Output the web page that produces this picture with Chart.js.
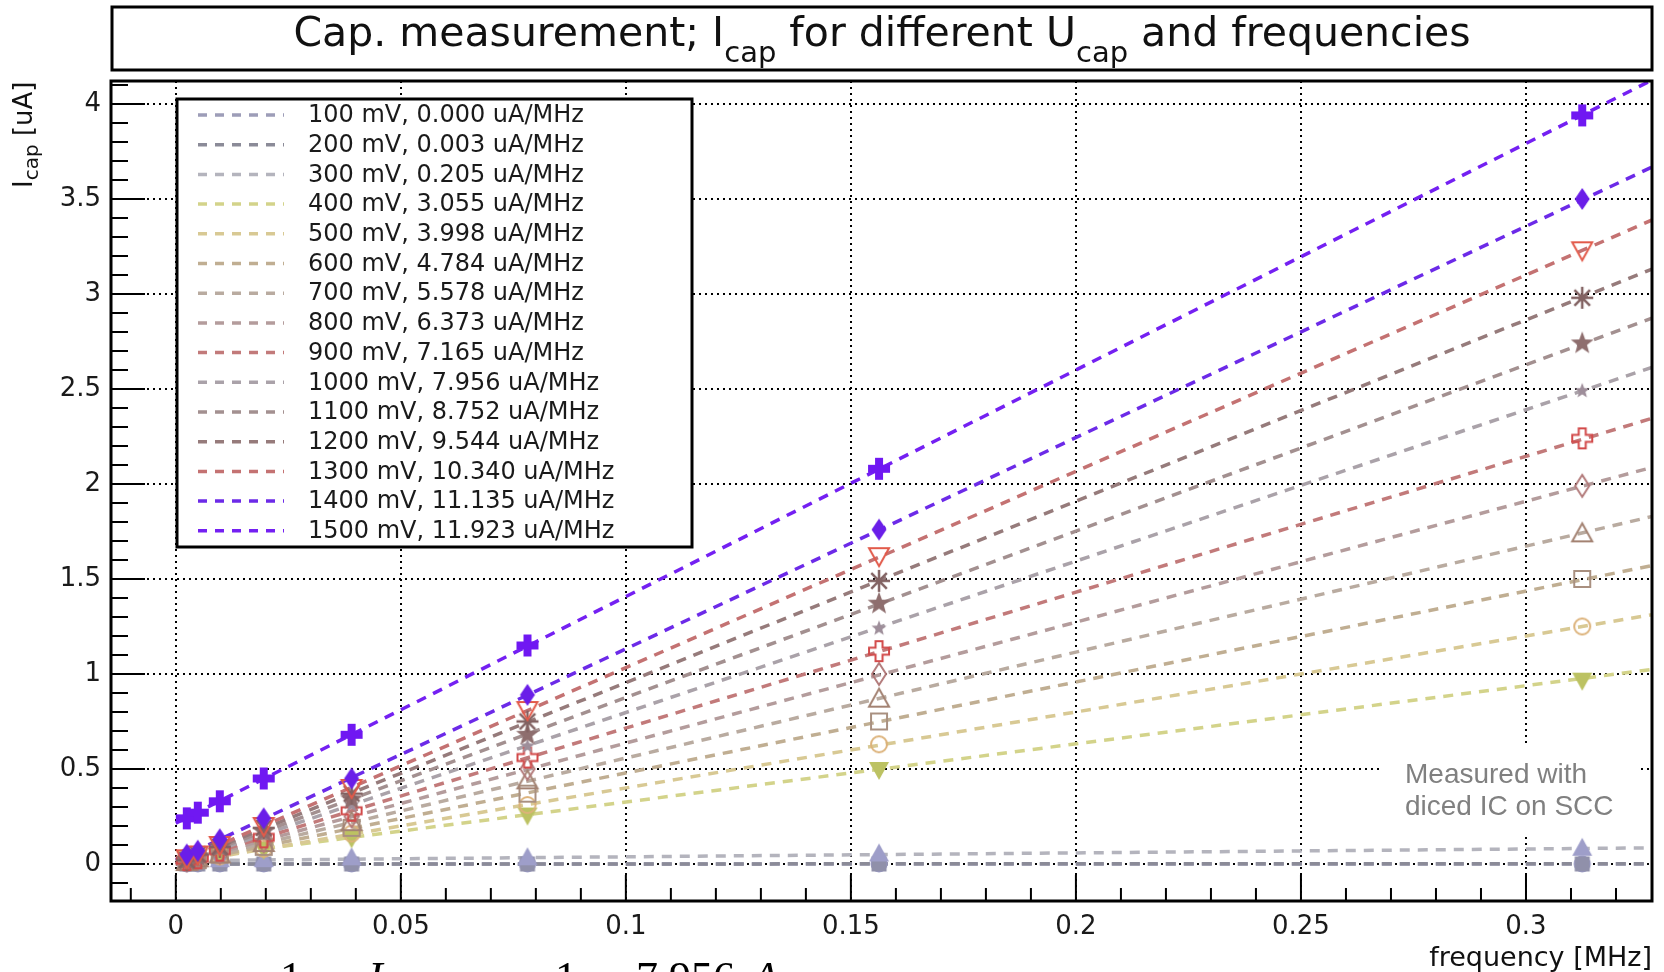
<!DOCTYPE html>
<html>
<head>
    <title>Cap. measurement</title>
    <meta charset="utf-8">
    <style>
        body {
            margin: 0;
            background: #ffffff;
        }

        #wrap {
            position: relative;
            width: 1664px;
            height: 972px;
        }
    </style>
</head>

<body>
    <div id="wrap"><canvas id="capChart"></canvas></div>

    <script src="https://cdn.jsdelivr.net/npm/chart.js@4.4.1/dist/chart.umd.min.js"></script>
    <script>
        // measurement frequencies [MHz]
        const freqs = [0.00244, 0.00488, 0.00977, 0.01953, 0.03906, 0.07813, 0.15625, 0.3125];

        // U_cap [mV] and fitted slope [uA/MHz] shown in the legend
        const voltages = [100, 200, 300, 400, 500, 600, 700, 800, 900, 1000, 1100, 1200, 1300, 1400, 1500];
        const slopeLabels = ['0.000', '0.003', '0.205', '3.055', '3.998', '4.784', '5.578', '6.373',
            '7.165', '7.956', '8.752', '9.544', '10.340', '11.135', '11.923'];

        // measured I_cap [uA] for each U_cap
        const cur100 = [0.00, 0.00, 0.00, 0.00, 0.00, 0.00, 0.00, 0.00];
        const cur200 = [0.00, 0.00, 0.00, 0.00, 0.00, 0.00, 0.00, 0.00];
        const cur300 = [0.02, 0.02, 0.02, 0.02, 0.03, 0.03, 0.05, 0.08];
        const cur400 = [0.03, 0.04, 0.05, 0.08, 0.14, 0.26, 0.50, 0.97];
        const cur500 = [0.01, 0.02, 0.04, 0.08, 0.16, 0.31, 0.63, 1.25];
        const cur600 = [0.01, 0.02, 0.05, 0.09, 0.19, 0.37, 0.75, 1.50];
        const cur700 = [0.01, 0.03, 0.05, 0.11, 0.22, 0.44, 0.87, 1.74];
        const cur800 = [0.02, 0.03, 0.06, 0.12, 0.25, 0.50, 1.00, 1.99];
        const cur900 = [0.02, 0.03, 0.07, 0.14, 0.28, 0.56, 1.12, 2.24];
        const cur1000 = [0.02, 0.04, 0.08, 0.16, 0.31, 0.62, 1.24, 2.49];
        const cur1100 = [0.02, 0.04, 0.09, 0.17, 0.34, 0.68, 1.37, 2.74];
        const cur1200 = [0.02, 0.05, 0.09, 0.19, 0.37, 0.75, 1.49, 2.98];
        const cur1300 = [0.03, 0.05, 0.10, 0.20, 0.40, 0.81, 1.62, 3.23];
        const cur1400 = [0.05, 0.07, 0.13, 0.24, 0.45, 0.89, 1.76, 3.50];
        const cur1500 = [0.24, 0.27, 0.33, 0.45, 0.68, 1.15, 2.08, 3.94];

        // fit lines: value at x = fitX[0] and at x = fitX[1]
        const fitX = [0, 0.33];
        const fitAtZero = [0.00, 0.00, 0.017, 0.02, 0.00, 0.00, 0.00, 0.00, 0.00, 0.00, 0.00, 0.00, 0.00, 0.02, 0.215];
        const fitAtEnd = [0.00, 0.001, 0.085, 1.03, 1.32, 1.58, 1.84, 2.10, 2.36, 2.63, 2.89, 3.15, 3.41, 3.69, 4.15];

        // axis ticks
        const xTicks = [0, 0.05, 0.1, 0.15, 0.2, 0.25, 0.3];
        const yTicks = [0, 0.5, 1, 1.5, 2, 2.5, 3, 3.5, 4];

        const allCurrents = [cur100, cur200, cur300, cur400, cur500, cur600, cur700, cur800,
            cur900, cur1000, cur1100, cur1200, cur1300, cur1400, cur1500];

        const lineColors = ['#9d9db8', '#8b8b98', '#b4b4bd', '#d3d38a', '#d8c994', '#c0ae92', '#b9aba0',
            '#b49c9c', '#c27a7a', '#aaa2a9', '#a39090', '#967b7b', '#c47272', '#6c2ae8', '#7420f2'];
        const markerColors = ['#9898c6', '#9090aa', '#9e9ec9', '#bcc262', '#dcb27a', '#a99080', '#a38272',
            '#b27a7a', '#d24a4a', '#9e8e9a', '#8e6e6e', '#826262', '#e25a4a', '#6a1ee8', '#7018f2'];
        const markerKinds = ['circleF', 'squareF', 'triUpF', 'triDownF', 'circleO', 'squareO', 'triUpO',
            'diamondO', 'crossO', 'starS', 'starB', 'asterisk', 'triDownO', 'diamondF', 'crossF'];

        // small canvases used as ROOT like marker shapes
        function markerCanvas(kind, color) {
            const c = document.createElement('canvas');
            c.width = 28;
            c.height = 28;
            const g = c.getContext('2d');
            g.translate(14, 14);
            g.fillStyle = color;
            g.strokeStyle = color;
            g.lineWidth = 2;
            const poly = pts => {
                g.beginPath();
                pts.forEach(([px, py], k) => k ? g.lineTo(px, py) : g.moveTo(px, py));
                g.closePath();
            };
            const star = (ro, ri) => {
                const pts = [];
                for (let k = 0; k < 10; k++) {
                    const r = k % 2 ? ri : ro;
                    const a = -Math.PI / 2 + k * Math.PI / 5;
                    pts.push([r * Math.cos(a), r * Math.sin(a)]);
                }
                poly(pts);
            };
            const plus = (L, w) => poly([[-w, -L], [w, -L], [w, -w], [L, -w], [L, w], [w, w], [w, L],
                [-w, L], [-w, w], [-L, w], [-L, -w], [-w, -w]]);
            switch (kind) {
                case 'circleF': g.beginPath(); g.arc(0, 0, 8.5, 0, 2 * Math.PI); g.fill(); break;
                case 'squareF': g.fillRect(-7.5, -7.5, 15, 15); break;
                case 'triUpF': poly([[0, -11], [10, 7], [-10, 7]]); g.fill(); break;
                case 'triDownF': poly([[0, 11], [10, -7], [-10, -7]]); g.fill(); break;
                case 'circleO': g.beginPath(); g.arc(0, 0, 8, 0, 2 * Math.PI); g.stroke(); break;
                case 'squareO': g.strokeRect(-8, -8, 16, 16); break;
                case 'triUpO': poly([[0, -10], [10, 8], [-10, 8]]); g.stroke(); break;
                case 'diamondO': poly([[0, -11], [7, 0], [0, 11], [-7, 0]]); g.stroke(); break;
                case 'crossO': plus(10, 3.5); g.stroke(); break;
                case 'starS': star(8, 3.4); g.fill(); break;
                case 'starB': star(12, 5); g.fill(); break;
                case 'asterisk':
                    g.beginPath();
                    for (let k = 0; k < 4; k++) {
                        const a = k * Math.PI / 4;
                        g.moveTo(-11 * Math.cos(a), -11 * Math.sin(a));
                        g.lineTo(11 * Math.cos(a), 11 * Math.sin(a));
                    }
                    g.lineWidth = 2.5;
                    g.stroke();
                    break;
                case 'triDownO': poly([[0, 10], [10, -8], [-10, -8]]); g.stroke(); break;
                case 'diamondF': poly([[0, -11], [7.5, 0], [0, 11], [-7.5, 0]]); g.fill(); break;
                case 'crossF': plus(11, 4); g.fill(); break;
            }
            return c;
        }

        const datasets = [];
        // markers first so they are drawn above the fit lines; highest voltage on top
        for (let i = voltages.length - 1; i >= 0; i--) {
            datasets.push({
                label: voltages[i] + ' mV points',
                data: freqs.map((f, j) => ({ x: f, y: allCurrents[i][j] })),
                showLine: false,
                pointStyle: markerCanvas(markerKinds[i], markerColors[i]),
                pointRadius: 9,
                order: 0
            });
        }
        for (let i = voltages.length - 1; i >= 0; i--) {
            datasets.push({
                label: voltages[i] + ' mV, ' + slopeLabels[i] + ' uA/MHz',
                data: [{ x: fitX[0], y: fitAtZero[i] }, { x: fitX[1], y: fitAtEnd[i] }],
                showLine: true,
                borderColor: lineColors[i],
                borderWidth: 3.5,
                borderDash: [10, 8],
                pointRadius: 0,
                clip: 0,
                order: 1
            });
        }

        const FONT = '"DejaVu Sans", sans-serif';

        // draw a run of text pieces with sub scripts, starting at x
        function richWidth(ctx, parts) {
            let w = 0;
            parts.forEach(p => {
                ctx.font = p.s + 'px ' + FONT;
                w += ctx.measureText(p.t).width;
            });
            return w;
        }
        function drawRich(ctx, parts, x, y) {
            parts.forEach(p => {
                ctx.font = p.s + 'px ' + FONT;
                ctx.fillText(p.t, x, y + (p.dy || 0));
                x += ctx.measureText(p.t).width;
            });
        }

        const rootStyle = {
            id: 'rootStyle',
            afterDatasetsDraw(chart) {
                const ctx = chart.ctx;
                ctx.save();
                // legend box
                ctx.fillStyle = '#ffffff';
                ctx.fillRect(177, 99, 515, 448);
                ctx.lineWidth = 3;
                ctx.strokeStyle = '#000000';
                ctx.strokeRect(177, 99, 515, 448);
                ctx.textBaseline = 'middle';
                ctx.font = '24px ' + FONT;
                for (let i = 0; i < voltages.length; i++) {
                    const ry = 115 + i * 29.7;
                    ctx.setLineDash([9, 8]);
                    ctx.strokeStyle = lineColors[i];
                    ctx.lineWidth = 3.5;
                    ctx.beginPath();
                    ctx.moveTo(198, ry);
                    ctx.lineTo(284, ry);
                    ctx.stroke();
                    ctx.setLineDash([]);
                    ctx.fillStyle = '#1a1a1a';
                    ctx.fillText(voltages[i] + ' mV, ' + slopeLabels[i] + ' uA/MHz', 308, ry + 1);
                }
                // note
                ctx.fillStyle = '#ffffff';
                ctx.fillRect(1383, 743, 257, 92);
                ctx.fillStyle = '#808080';
                ctx.font = '28px "Liberation Sans", Arial, sans-serif';
                ctx.textBaseline = 'alphabetic';
                ctx.fillText('Measured with', 1405, 783);
                ctx.fillText('diced IC on SCC', 1405, 815);
                ctx.restore();
            },
            afterDraw(chart) {
                const ctx = chart.ctx;
                const a = chart.chartArea;
                const xs = chart.scales.x;
                const ys = chart.scales.y;
                ctx.save();
                ctx.strokeStyle = '#000000';
                ctx.fillStyle = '#000000';
                ctx.setLineDash([]);
                // ticks pointing into the frame
                ctx.lineWidth = 2;
                ctx.beginPath();
                for (let k = -1; k <= 32; k++) {
                    const px = xs.getPixelForValue(k / 100);
                    if (px < a.left || px > a.right) continue;
                    const len = k % 5 === 0 ? 26 : 13;
                    ctx.moveTo(px, a.bottom);
                    ctx.lineTo(px, a.bottom - len);
                }
                for (let k = -1; k <= 41; k++) {
                    const py = ys.getPixelForValue(k / 10);
                    if (py < a.top || py > a.bottom) continue;
                    const len = k % 5 === 0 ? 34 : 17;
                    ctx.moveTo(a.left, py);
                    ctx.lineTo(a.left + len, py);
                }
                ctx.stroke();
                // frame
                ctx.lineWidth = 3;
                ctx.strokeRect(a.left, a.top, a.right - a.left, a.bottom - a.top);
                // title box
                ctx.strokeRect(112, 7, 1540, 63);
                ctx.fillStyle = '#111111';
                ctx.textBaseline = 'alphabetic';
                const title = [
                    { t: 'Cap. measurement; I', s: 41 },
                    { t: 'cap', s: 29, dy: 16 },
                    { t: ' for different U', s: 41 },
                    { t: 'cap', s: 29, dy: 16 },
                    { t: ' and frequencies', s: 41 }
                ];
                drawRich(ctx, title, 882 - richWidth(ctx, title) / 2, 46);
                // x axis title
                ctx.font = '27px ' + FONT;
                ctx.textAlign = 'right';
                ctx.fillText('frequency [MHz]', a.right, 966);
                ctx.textAlign = 'left';
                // y axis title
                ctx.save();
                ctx.translate(32, 188);
                ctx.rotate(-Math.PI / 2);
                drawRich(ctx, [{ t: 'I', s: 26 }, { t: 'cap', s: 20, dy: 6 }, { t: ' [uA]', s: 26 }], 0, 0);
                ctx.restore();
                // formula cut at the bottom of the picture
                ctx.fillStyle = '#000000';
                ctx.font = '44px "Liberation Serif", serif';
                ctx.fillText('1', 280, 992);
                ctx.fillText('1', 555, 992);
                ctx.fillText('7.956', 636, 992);
                ctx.font = 'italic 44px "Liberation Serif", serif';
                ctx.fillText('I', 368, 992);
                ctx.fillText('A', 752, 992);
                ctx.restore();
            }
        };

        const gridOpts = { color: '#000000', lineWidth: 2, drawTicks: false };
        const borderOpts = { display: false, dash: [2, 4] };

        new Chart(document.getElementById('capChart'), {
            type: 'scatter',
            data: { datasets: datasets },
            options: {
                responsive: true,
                maintainAspectRatio: false,
                animation: false,
                layout: { padding: { left: 0, right: 12, top: 81, bottom: 0 } },
                plugins: {
                    legend: { display: false },
                    tooltip: { enabled: false },
                    title: { display: false }
                },
                scales: {
                    x: {
                        type: 'linear',
                        min: -0.0144,
                        max: 0.328,
                        grid: gridOpts,
                        border: borderOpts,
                        afterBuildTicks: s => { s.ticks = xTicks.map(v => ({ value: v })); },
                        afterFit: s => { s.height = 71; },
                        ticks: {
                            autoSkip: false,
                            maxRotation: 0,
                            padding: 11,
                            color: '#1a1a1a',
                            font: { family: 'DejaVu Sans', size: 26 },
                            callback: v => String(v)
                        }
                    },
                    y: {
                        type: 'linear',
                        min: -0.195,
                        max: 4.121,
                        grid: gridOpts,
                        border: borderOpts,
                        afterBuildTicks: s => { s.ticks = yTicks.map(v => ({ value: v })); },
                        afterFit: s => { s.width = 111; },
                        ticks: {
                            autoSkip: false,
                            padding: 10,
                            color: '#1a1a1a',
                            font: { family: 'DejaVu Sans', size: 26 },
                            callback: v => String(v)
                        }
                    }
                }
            },
            plugins: [rootStyle]
        });
    </script>
</body>

</html>
